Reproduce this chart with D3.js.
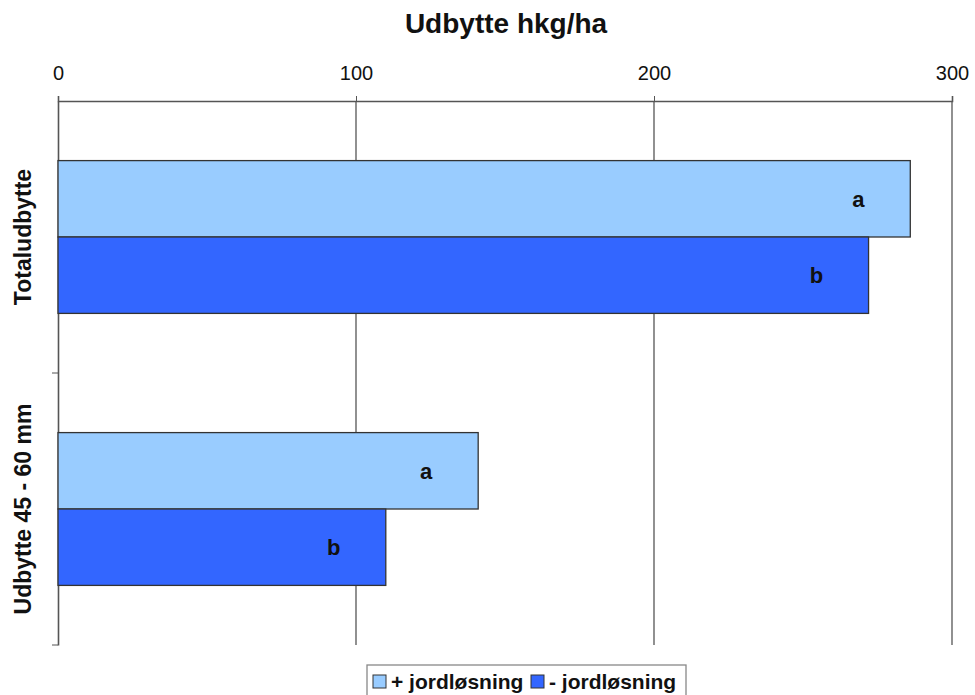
<!DOCTYPE html>
<html><head><meta charset="utf-8">
<script src="https://cdn.jsdelivr.net/npm/d3@7"></script>
<style>body{margin:0;background:#fff;} text{font-family:Arial,"Liberation Sans",sans-serif;}</style>
</head><body><svg id="c" width="975" height="695"></svg>
<script>
const categories = ["Totaludbytte", "Udbytte 45 - 60 mm"];
const seriesNames = ["+ jordløsning", "- jordløsning"];
const plusValues = [286, 141];
const minusValues = [272, 110];
const plusLetters = ["a", "a"];
const minusLetters = ["b", "b"];
const xTicks = [0, 100, 200, 300];
const colors = ["#99CCFF", "#3366FF"];

const svg = d3.select("#c");
const m = {l:58, t:101, bottom:645};
const x = d3.scaleLinear().domain([0,300]).range([m.l, 952]);
const y0 = d3.scaleBand().domain(categories).range([m.t, m.bottom]).paddingInner(0).paddingOuter(0);
const y1 = d3.scaleBand().domain(seriesNames).range([0, y0.bandwidth()]).paddingInner(0).paddingOuter(0.78);

// title
svg.append("text").attr("x", 506).attr("y", 33).attr("text-anchor","middle")
  .attr("font-size", 28).attr("font-weight","bold").attr("fill","#111").text("Udbytte hkg/ha");

// gridlines
svg.append("g").selectAll("line").data(xTicks.filter(d=>d>0)).join("line")
  .attr("x1", d=>x(d)).attr("x2", d=>x(d)).attr("y1", m.t).attr("y2", m.bottom)
  .attr("stroke","#555").attr("stroke-width",1.3);

// top axis
const ax = svg.append("g").attr("transform",`translate(0,${m.t})`)
  .call(d3.axisTop(x).tickValues(xTicks).tickSize(5).tickPadding(20).tickFormat(d3.format("d")));
ax.select(".domain").attr("stroke","#555").attr("stroke-width",1.6);
ax.selectAll(".tick line").attr("stroke","#555").attr("y2",-5);
ax.selectAll(".tick text").attr("font-size",20).attr("fill","#111").attr("y",-21);

// left axis
const ay = svg.append("g").attr("transform",`translate(${m.l},0)`)
  .call(d3.axisLeft(y0).tickSize(0).tickFormat(""));
ay.select(".domain").attr("stroke","#555").attr("stroke-width",1.6);
const boundaries = [y0(categories[1]), m.bottom];
ay.selectAll(".bnd").data(boundaries).join("line").attr("class","bnd")
  .attr("x1",-6).attr("x2",0).attr("y1",d=>d).attr("y2",d=>d).attr("stroke","#555");

// category labels
svg.append("g").selectAll("text").data(categories).join("text")
  .attr("transform", d=>`translate(31,${y0(d)+y0.bandwidth()/2}) rotate(-90)`)
  .attr("text-anchor","middle").attr("font-size",23).attr("font-weight","bold").attr("fill","#111")
  .text(d=>d);

// bars
const rows = [];
categories.forEach((c,i)=>{
  rows.push({cat:c, s:seriesNames[0], v:plusValues[i], lab:plusLetters[i], col:colors[0]});
  rows.push({cat:c, s:seriesNames[1], v:minusValues[i], lab:minusLetters[i], col:colors[1]});
});
const g = svg.append("g");
g.selectAll("rect").data(rows).join("rect")
  .attr("x", x(0)).attr("y", d=>y0(d.cat)+y1(d.s))
  .attr("width", d=>x(d.v)-x(0)).attr("height", y1.bandwidth())
  .attr("fill", d=>d.col).attr("stroke","#333").attr("stroke-width",1.3);
g.selectAll("text").data(rows).join("text")
  .attr("x", d=>x(d.v)-52).attr("y", d=>y0(d.cat)+y1(d.s)+y1.bandwidth()/2+8)
  .attr("text-anchor","middle").attr("font-size",22).attr("font-weight","bold").attr("fill","#111")
  .text(d=>d.lab);

// legend
const lg = svg.append("g").attr("transform","translate(367,665)");
lg.append("rect").attr("x",0).attr("y",0).attr("width",319).attr("height",32)
  .attr("fill","#fff").attr("stroke","#888").attr("stroke-width",1.3);
const items = [{n:seriesNames[0], c:colors[0], x:6},{n:seriesNames[1], c:colors[1], x:164}];
items.forEach(it=>{
  lg.append("rect").attr("x",it.x).attr("y",10).attr("width",13).attr("height",13)
    .attr("fill",it.c).attr("stroke","#333");
  lg.append("text").attr("x",it.x+18).attr("y",24).attr("font-size",21).attr("fill","#111")
    .attr("font-weight","bold").text(it.n);
});
</script></body></html>
